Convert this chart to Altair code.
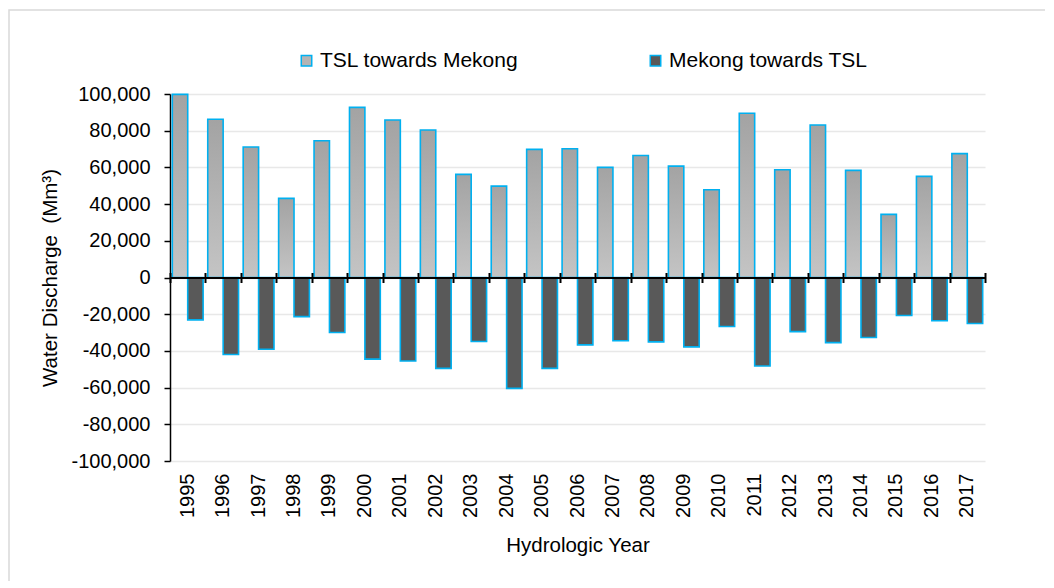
import altair as alt
import pandas as pd

years = [str(y) for y in range(1995, 2018)]
tsl_towards_mekong = [99800, 86200, 71100, 43100, 74500, 92700, 85800, 80400, 56200, 49800,
                      69800, 70200, 60000, 66500, 60700, 47800, 89500, 58700, 83100, 58400,
                      34400, 55100, 67500]
mekong_towards_tsl = [-23100, -42000, -39100, -21300, -30000, -44500, -45500, -49500, -34900, -60400,
                      -49500, -36700, -34500, -35100, -37800, -26700, -48200, -29500, -35500, -32700,
                      -20700, -23600, -25100]
series_names = ["TSL towards Mekong", "Mekong towards TSL"]
y_ticks = list(range(-100000, 100001, 20000))

df = pd.DataFrame({
    "year": years * 2,
    "series": [series_names[0]] * len(years) + [series_names[1]] * len(years),
    "value": tsl_towards_mekong + mekong_towards_tsl,
})

W, H = 815, 367
FONT = "Liberation Sans"
BLUE = "#00B0F0"

x_scale = alt.Scale(domain=years, paddingInner=0, paddingOuter=0)
xo_scale = alt.Scale(domain=series_names, paddingInner=0, paddingOuter=0.15)
y_scale = alt.Scale(domain=[-100000, 100000], nice=False, zero=False)

grad = {
    "gradient": "linear", "x1": 0, "y1": 0, "x2": 0, "y2": 1,
    "stops": [{"offset": 0, "color": "#A3A3A3"}, {"offset": 1, "color": "#C4C4C4"}],
}

base = alt.Chart(df)

pos = base.transform_filter(alt.datum.series == series_names[0]).mark_bar(
    fill=grad, stroke=BLUE, strokeWidth=1.6
).encode(
    x=alt.X("year:N", scale=x_scale, axis=alt.Axis(
        orient="bottom", title="Hydrologic Year", labelAngle=-90, domain=False, ticks=False,
        tickSize=0, labelPadding=12, labelFontSize=20, titleFontSize=20.5, titlePadding=18,
        labelColor="#000", titleColor="#000", labelFont=FONT, titleFont=FONT,
        titleFontWeight="normal", grid=False)),
    xOffset=alt.XOffset("series:N", scale=xo_scale),
    y=alt.Y("value:Q", scale=y_scale, axis=alt.Axis(
        orient="left", title="Water Discharge \u00a0(Mm³)", values=y_ticks,
        labelExpr="replace(format(datum.value, ',.0f'), '\u2212', '-')", grid=True,
        gridColor="#E8E8E8", gridWidth=1.5, domainColor="#000", domainWidth=1.5,
        tickColor="#000", tickSize=6, tickWidth=1.5, labelFontSize=20, titleFontSize=20.5,
        labelPadding=14, titlePadding=11, labelColor="#000", titleColor="#000",
        labelFont=FONT, titleFont=FONT, titleFontWeight="normal")),
)

neg = base.transform_filter(alt.datum.series == series_names[1]).mark_bar(
    stroke=BLUE, strokeWidth=1.6
).encode(
    x=alt.X("year:N", scale=x_scale, axis=None),
    xOffset=alt.XOffset("series:N", scale=xo_scale),
    y=alt.Y("value:Q", scale=y_scale, axis=None),
    color=alt.Color("series:N", scale=alt.Scale(domain=series_names, range=["#B4B4B4", "#595959"]),
                    legend=alt.Legend(
                        title=None, orient="none", legendX=126, legendY=-44, direction="horizontal",
                        symbolType="square", symbolSize=110, symbolStrokeColor=BLUE,
                        symbolStrokeWidth=1.5, labelFontSize=21, labelFont=FONT,
                        labelColor="#000", columnPadding=126, labelOffset=3, padding=0,
                        labelLimit=0)),
)

zero_bottom = base.mark_point(opacity=0).encode(
    x=alt.X("year:N", scale=x_scale, axis=alt.Axis(
        orient="bottom", offset=-H / 2, labels=False, title=None, domainColor="#000",
        domainWidth=2, tickColor="#000", tickWidth=2, tickSize=5, tickBand="extent",
        grid=False, zindex=2)),
    y=alt.Y("value:Q", scale=y_scale, axis=None),
)

zero_top = base.mark_point(opacity=0).encode(
    x=alt.X("year:N", scale=x_scale, axis=alt.Axis(
        orient="top", offset=-H / 2, labels=False, title=None, domainColor="#000",
        domainWidth=2, tickColor="#000", tickWidth=2, tickSize=5, tickBand="extent",
        grid=False, zindex=2)),
    y=alt.Y("value:Q", scale=y_scale, axis=None),
)

border = alt.Chart(alt.Data(values=[{"a": 1}])).mark_rect(
    filled=False, stroke="#D9D9D9", strokeWidth=1.5
).encode(
    x=alt.value(-161), x2=alt.value(900), y=alt.value(-84), y2=alt.value(520)
)

chart = alt.layer(border, pos, neg, zero_bottom, zero_top).resolve_axis(
    x="independent", y="independent"
).properties(
    width=W, height=H,
    autosize=alt.AutoSizeParams(type="none"),
    padding={"left": 162, "top": 86, "right": 60, "bottom": 120},
).configure_view(stroke=None)

chart.save("out.html", embed_options={"renderer": "svg", "actions": False})
